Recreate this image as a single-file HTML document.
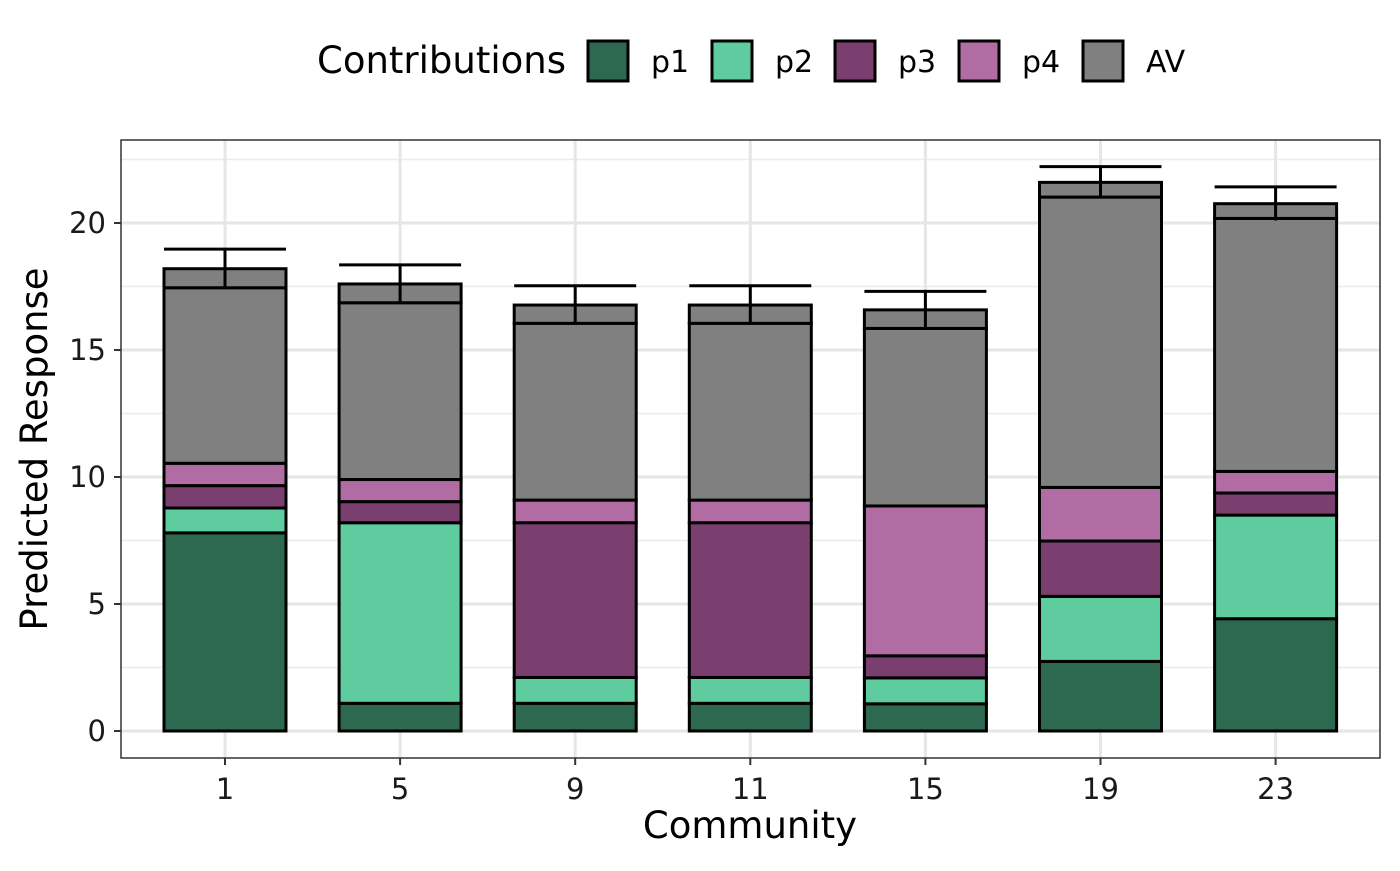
<!DOCTYPE html>
<html><head><meta charset="utf-8"><style>
body{margin:0;background:#fff;}
svg text{font-family:"DejaVu Sans","Liberation Sans",sans-serif;}
</style></head><body>
<svg id="c" width="1400" height="866" xmlns="http://www.w3.org/2000/svg"></svg>
<script>
const categories=["1","5","9","11","15","19","23"];
const p1=[7.80,1.09,1.09,1.09,1.07,2.74,4.42];
const p2=[0.98,7.11,1.02,1.02,1.02,2.56,4.08];
const p3=[0.88,0.83,6.09,6.09,0.87,2.18,0.87];
const p4=[0.88,0.87,0.89,0.89,5.90,2.11,0.85];
const av=[6.91,6.96,6.96,6.96,6.99,11.43,9.96];
const extra=[0.75,0.74,0.72,0.72,0.73,0.58,0.58];
const errs=[0.77,0.75,0.76,0.76,0.73,0.62,0.66];
const yTicks=[0,5,10,15,20];
const seriesNames=["p1","p2","p3","p4","AV"];
const colors=["#2d6851","#5ecc9f","#7a3f6e","#b06ca3","#808080"];

const NS="http://www.w3.org/2000/svg";
const svg=document.getElementById('c');
const L=121,R=1380,T=140,B=758;
const y=v=>731-v*25.4;
const x=i=>225+i*175.1;
const bw=122;
function el(t,a,p){const e=document.createElementNS(NS,t);for(const k in a)e.setAttribute(k,a[k]);(p||svg).appendChild(e);return e;}

const panel=el('rect',{x:L,y:T,width:R-L,height:B-T,fill:'#fff'});


for(let v=2.5;v<=22.5;v+=5){const g=el('line',{x1:L,x2:R,y1:y(v),y2:y(v),stroke:'#ebebeb','stroke-width':1.5});

}
yTicks.forEach(v=>{const g=el('line',{x1:L,x2:R,y1:y(v),y2:y(v),stroke:'#e6e6e6','stroke-width':3});


const tk=el('line',{x1:L-7,x2:L,y1:y(v),y2:y(v),stroke:'#333','stroke-width':2});


const t=el('text',{x:L-15,y:y(v)+10,'text-anchor':'end','font-size':29,fill:'#1a1a1a'});t.textContent=v;

});
categories.forEach((c,i)=>{const g=el('line',{x1:x(i),x2:x(i),y1:T,y2:B,stroke:'#e6e6e6','stroke-width':3});


const tk=el('line',{x1:x(i),x2:x(i),y1:B,y2:B+7,stroke:'#333','stroke-width':2});


const t=el('text',{x:x(i),y:B+41,'text-anchor':'middle','font-size':29,fill:'#1a1a1a'});t.textContent=c;

});
const series=[p1,p2,p3,p4,av,extra];
categories.forEach((c,i)=>{let base=0;
series.forEach((s,k)=>{const top=base+s[i];
const r=el('rect',{x:x(i)-bw/2,y:y(top),width:bw,height:y(base)-y(top),fill:colors[Math.min(k,4)],stroke:'#000','stroke-width':3});


base=top;});
const hi=y(base+errs[i]),lo=y(base-errs[i]);
const e1=el('line',{x1:x(i),x2:x(i),y1:hi,y2:lo,stroke:'#000','stroke-width':3});


const e2=el('line',{x1:x(i)-bw/2,x2:x(i)+bw/2,y1:hi,y2:hi,stroke:'#000','stroke-width':3});

});
const border=el('rect',{x:L,y:T,width:R-L,height:B-T,fill:'none',stroke:'#333','stroke-width':1.5});


const xt=el('text',{x:750,y:838,'text-anchor':'middle','font-size':37,fill:'#000'});xt.textContent='Community';


const yt=el('text',{x:0,y:0,'text-anchor':'middle','font-size':37,fill:'#000',transform:'translate(47,449) rotate(-90)'});yt.textContent='Predicted Response';


const lt=el('text',{x:317,y:73,'font-size':37,fill:'#000'});lt.textContent='Contributions';


const lx=[588,712,835,959,1083];
seriesNames.forEach((n,k)=>{const r=el('rect',{x:lx[k],y:41,width:40,height:40,fill:colors[k],stroke:'#000','stroke-width':3});


const t=el('text',{x:lx[k]+63,y:72,'font-size':30,fill:'#000'});t.textContent=n;

});
</script>
</body></html>
